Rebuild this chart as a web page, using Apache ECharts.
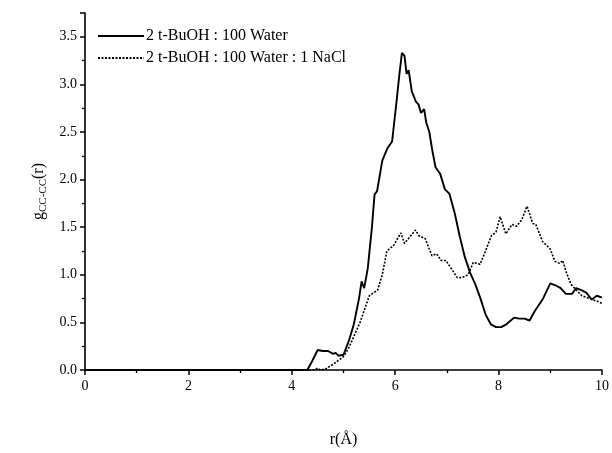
<!DOCTYPE html>
<html>
<head>
<meta charset="utf-8">
<script src="https://cdn.jsdelivr.net/npm/echarts@6/dist/echarts.min.js"></script>
<style>html,body{margin:0;padding:0;background:#fff}#c{width:612px;height:453px}</style>
</head>
<body>
<div id="c"></div>
<script>
const seriesNames = ['2 t-BuOH : 100 Water', '2 t-BuOH : 100 Water : 1 NaCl'];
const rSolid = [0,4.3,4.4,4.5,4.6,4.7,4.8,4.85,4.9,5.0,5.1,5.2,5.3,5.35,5.4,5.47,5.55,5.6,5.65,5.75,5.85,5.94,6.03,6.08,6.13,6.18,6.22,6.26,6.32,6.4,6.45,6.5,6.56,6.6,6.66,6.72,6.78,6.87,6.96,7.05,7.15,7.25,7.35,7.45,7.55,7.65,7.75,7.85,7.95,8.05,8.15,8.3,8.4,8.5,8.6,8.7,8.85,9.0,9.1,9.2,9.3,9.42,9.5,9.6,9.7,9.8,9.9,10];
const gSolid = [0,0,0.1,0.21,0.2,0.2,0.17,0.18,0.15,0.16,0.3,0.48,0.75,0.93,0.86,1.07,1.5,1.84,1.88,2.2,2.33,2.4,2.84,3.1,3.33,3.3,3.11,3.15,2.93,2.82,2.79,2.7,2.74,2.6,2.5,2.3,2.13,2.06,1.9,1.85,1.65,1.4,1.18,1.02,0.9,0.75,0.58,0.48,0.45,0.45,0.48,0.55,0.54,0.54,0.52,0.62,0.74,0.91,0.89,0.86,0.8,0.8,0.86,0.84,0.81,0.74,0.78,0.76];
const rDotted = [0,4.45,4.5,4.55,4.65,4.8,4.9,5.0,5.1,5.32,5.5,5.66,5.75,5.84,5.97,6.11,6.18,6.27,6.39,6.46,6.58,6.71,6.8,6.89,6.98,7.08,7.2,7.29,7.41,7.51,7.64,7.74,7.86,7.95,8.03,8.14,8.26,8.35,8.45,8.55,8.66,8.72,8.85,9.0,9.09,9.18,9.24,9.3,9.4,9.52,9.61,9.77,9.86,9.92,10];
const gDotted = [0,0,0.02,0,0.01,0.06,0.1,0.14,0.23,0.5,0.78,0.84,1.0,1.25,1.31,1.44,1.33,1.39,1.47,1.41,1.38,1.2,1.22,1.15,1.15,1.07,0.97,0.97,1.0,1.13,1.11,1.24,1.41,1.45,1.61,1.43,1.53,1.51,1.58,1.72,1.54,1.53,1.35,1.27,1.14,1.12,1.15,1.04,0.9,0.83,0.78,0.75,0.73,0.72,0.7];
const xTicks = [0,2,4,6,8,10];
const yTicks = [0,0.5,1,1.5,2,2.5,3,3.5];

const zip = (a, b) => a.map((v, i) => [v, b[i]]);
const font = '"Liberation Serif", "Times New Roman", serif';
const chart = echarts.init(document.getElementById('c'), null, {renderer: 'canvas'});
chart.setOption({
  animation: false,
  backgroundColor: '#fff',
  textStyle: {fontFamily: font, color: '#000'},
  grid: {left: 85, right: 7, top: 13, bottom: 83, containLabel: false},
  legend: {
    left: 92, top: 23, orient: 'vertical', itemGap: 6, itemWidth: 46, itemHeight: 14,
    textStyle: {fontFamily: font, fontSize: 16, color: '#000', padding: [0, 0, 0, -3]},
    itemStyle: {opacity: 0},
    data: [seriesNames[0], seriesNames[1]]
  },
  xAxis: {
    type: 'value', min: 0, max: 10, interval: 2,
    name: 'r(Å)', nameLocation: 'middle', nameGap: 62,
    nameTextStyle: {fontFamily: font, fontSize: 16, color: '#000'},
    axisLine: {lineStyle: {color: '#000', width: 1.6}},
    axisTick: {inside: false, length: 5, lineStyle: {color: '#000', width: 1.5}},
    minorTick: {show: true, splitNumber: 2, length: 3, lineStyle: {color: '#000', width: 1.3}},
    axisLabel: {fontFamily: font, fontSize: 14, color: '#000', margin: 9,
      formatter: v => xTicks.includes(v) ? String(v) : ''},
    splitLine: {show: false}
  },
  yAxis: {
    type: 'value', min: 0, max: 3.75, interval: 0.5,
    name: '{a|g}{b|CC-CC}{a|(r)}', nameLocation: 'middle', nameGap: 36, nameRotate: 90,
    nameTextStyle: {rich: {
      a: {fontFamily: font, fontSize: 16, color: '#000', lineHeight: 20},
      b: {fontFamily: font, fontSize: 11, color: '#000', lineHeight: 20, verticalAlign: 'bottom', padding: [8, 0, 0, 0]}
    }},
    axisLine: {lineStyle: {color: '#000', width: 1.6}},
    axisTick: {inside: false, length: 5, lineStyle: {color: '#000', width: 1.5}},
    minorTick: {show: true, splitNumber: 2, length: 3, lineStyle: {color: '#000', width: 1.3}},
    axisLabel: {fontFamily: font, fontSize: 14, color: '#000', margin: 8,
      formatter: v => yTicks.includes(v) ? v.toFixed(1) : ''},
    splitLine: {show: false}
  },
  series: [
    {name: seriesNames[0], type: 'line', symbol: 'none', data: zip(rSolid, gSolid),
      lineStyle: {color: '#000', width: 1.9, type: 'solid'}, itemStyle: {color: '#000'}},
    {name: seriesNames[1], type: 'line', symbol: 'none', data: zip(rDotted, gDotted),
      lineStyle: {color: '#000', width: 1.6, type: [2, 1.5]}, itemStyle: {color: '#000'}}
  ]
});
</script>
</body>
</html>
